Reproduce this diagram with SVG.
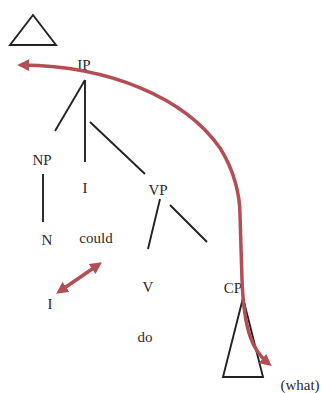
<svg xmlns="http://www.w3.org/2000/svg" width="322" height="393" viewBox="0 0 322 393">
<defs>
<style>
.t{font-family:"Liberation Serif","Times New Roman",serif;font-size:15px;fill:#2a2a2a;text-anchor:middle}
.l{stroke:#222;stroke-width:1.9;fill:none}
.r{stroke:#b34e55;stroke-width:3.5;fill:none;stroke-linecap:round}
</style>
<marker id="ah" viewBox="0 0 10 10" refX="6" refY="5" markerWidth="3.4" markerHeight="3.4" orient="auto-start-reverse">
<path d="M0,0 L10,5 L0,10 z" fill="#b34e55"/>
</marker>
</defs>
<rect width="322" height="393" fill="#fff"/>
<g id="topTriangle"><polygon class="l" points="33,15 10,45 56,45"/></g>
<g id="connectors">
<line class="l" x1="85" y1="80" x2="55" y2="131"/>
<line class="l" x1="85" y1="80" x2="85" y2="162"/>
<line class="l" x1="90" y1="122" x2="145" y2="174"/>
<line class="l" x1="43" y1="174" x2="43" y2="222"/>
<line class="l" x1="160" y1="199" x2="148" y2="249"/>
<line class="l" x1="170" y1="205" x2="207" y2="242"/>
</g>
<g id="IP"><text class="t" x="84" y="70">IP</text></g>
<g id="NP"><text class="t" x="42" y="165">NP</text></g>
<g id="I1"><text class="t" x="85" y="193">I</text></g>
<g id="VP"><text class="t" x="158" y="195">VP</text></g>
<g id="N"><text class="t" x="47" y="245">N</text></g>
<g id="could"><text class="t" x="96" y="243">could</text></g>
<g id="V"><text class="t" x="148" y="292">V</text></g>
<g id="do"><text class="t" x="145" y="342">do</text></g>
<g id="I2"><text class="t" x="50" y="309">I</text></g>
<g id="CP"><text class="t" x="233" y="293">CP</text>
<polygon class="l" points="243,298 223,377 263,377"/></g>
<g id="what"><text class="t" x="300" y="390">(what)</text></g>
<g id="arrows">
<path class="r" marker-start="url(#ah)" marker-end="url(#ah)" d="M22,65 C110,66 185,98 220,148 C234,170 240,195 240,215 L242,280 C244,330 252,350 268,363"/>
<line class="r" marker-start="url(#ah)" marker-end="url(#ah)" x1="60" y1="291" x2="98" y2="265"/>
</g>
</svg>
